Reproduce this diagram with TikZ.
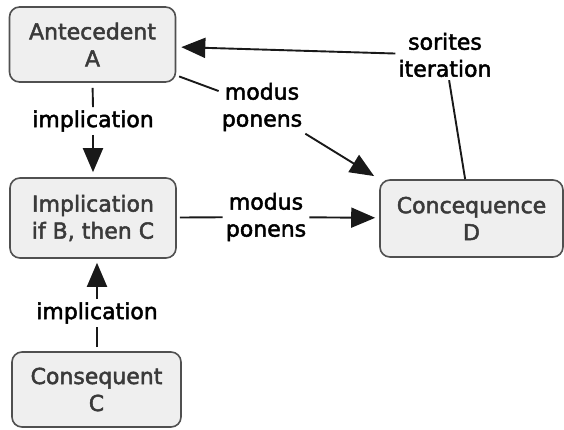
\documentclass[tikz,border=0pt]{standalone}
\usepackage{fontspec}
\setmainfont{DejaVu Sans}
\newfontfamily\mapfont{DejaVu Sans}[FakeBold=2.2]
\usetikzlibrary{arrows.meta}
\definecolor{boxfill}{HTML}{EFEFEF}
\definecolor{boxline}{HTML}{505050}
\definecolor{boxtext}{HTML}{3A3A3A}
\tikzset{
  concept/.style={draw=boxline, fill=boxfill, line width=1.6pt, rounded corners=10pt,
    align=center, text=boxtext, font=\mapfont\fontsize{22}{27}\selectfont, inner sep=0pt},
  lbl/.style={align=center, text=black, font=\mapfont\fontsize{22}{27}\selectfont, inner sep=3pt},
  link/.style={line width=1.9pt, draw=black!90},
  linkarrow/.style={link, -{Triangle[length=24pt,width=20pt]}}
}
\begin{document}
\begin{tikzpicture}[x=1pt,y=-1pt]
\useasboundingbox (0,0) rectangle (564,429);
% concept boxes
\node[concept, minimum width=166pt, minimum height=75pt] (A) at (92.5,44.5) {Antecedent\\A};
\node[concept, minimum width=166pt, minimum height=80pt] (I) at (93,218) {Implication\\if B, then C};
\node[concept, minimum width=169pt, minimum height=75pt] (C) at (96.5,389.5) {Consequent\\C};
\node[concept, minimum width=183pt, minimum height=77pt] (D) at (471.5,218.5) {Concequence\\D};
% link labels
\node[lbl] (imp1) at (93,121) {implication};
\node[lbl] (imp2) at (97,313) {implication};
\node[lbl] (mp1) at (262,107) {modus\\ponens};
\node[lbl] (mp2) at (266,217) {modus\\ponens};
\node[lbl] (sor) at (445,55) {sorites\\iteration};
% connectors
\draw[link, shorten <=5pt] (A.south) -- (imp1.north);
\draw[linkarrow, shorten >=5pt] (imp1.south) -- (I.north);
\draw[link, shorten <=4pt] (C.north -| imp2.south) -- (imp2.south);
\draw[linkarrow, shorten >=4pt] (imp2.north) -- (I.south -| imp2.north);
\draw[link, shorten <=3pt] (A) -- (mp1);
\draw[linkarrow, shorten >=6pt] (mp1) -- (D.north west);
\draw[link, shorten <=3pt] (I) -- (mp2);
\draw[linkarrow, shorten >=4pt] (mp2) -- (D);
\draw[linkarrow, shorten >=5pt] (sor) -- (A);
\draw[link] (sor) -- (D);
\end{tikzpicture}
\end{document}
